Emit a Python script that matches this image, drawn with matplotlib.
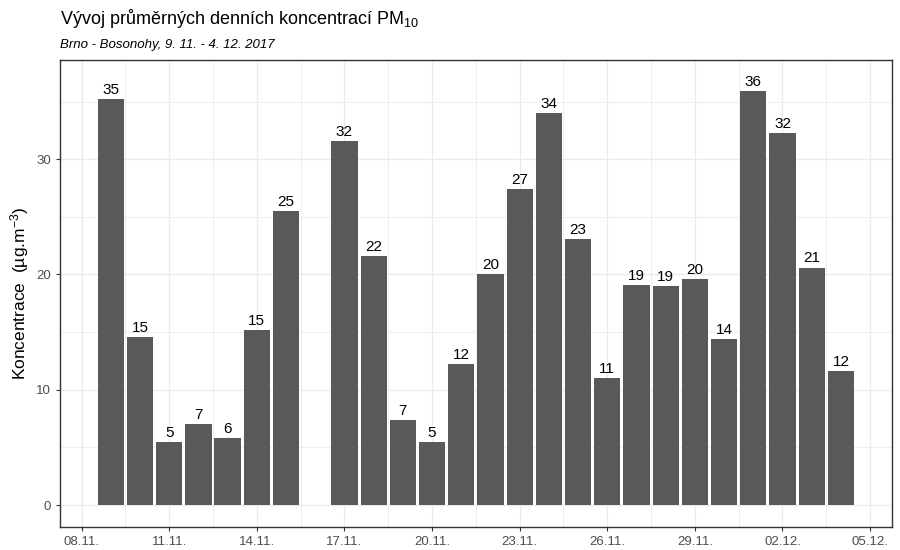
import datetime as dt
import matplotlib
matplotlib.use('Agg')
from matplotlib import pyplot as plt
import matplotlib.dates as mdates

plt.rcParams['font.family'] = ['Liberation Sans', 'DejaVu Sans']
plt.rcParams['mathtext.fontset'] = 'custom'
plt.rcParams['mathtext.rm'] = 'Liberation Sans'
plt.rcParams['mathtext.it'] = 'Liberation Sans:italic'

# daily PM10 means, 16.11. is missing
days = [9, 10, 11, 12, 13, 14, 15, 17, 18, 19, 20, 21, 22, 23, 24, 25, 26, 27, 28, 29, 30,
        1, 2, 3, 4]
months = [11] * 21 + [12] * 4
values = [35.2, 14.6, 5.5, 7.0, 5.8, 15.2, 25.5, 31.6, 21.6, 7.4, 5.5, 12.2, 20.0, 27.4,
          34.0, 23.1, 11.0, 19.1, 19.0, 19.6, 14.4, 35.9, 32.3, 20.6, 11.6]
labels = ['35', '15', '5', '7', '6', '15', '25', '32', '22', '7', '5', '12', '20', '27',
          '34', '23', '11', '19', '19', '20', '14', '36', '32', '21', '12']

dates = [dt.datetime(2017, m, d) for d, m in zip(days, months)]

fig = plt.figure(figsize=(9, 5.5), dpi=100)
ax = fig.add_axes([60 / 900, 1 - 527 / 550, 832 / 900, 467 / 550])

x = mdates.date2num(dates)
ax.bar(x, values, width=0.9, color='#595959', zorder=2)
for xi, v, lab in zip(x, values, labels):
    ax.annotate(lab, (xi, v), xytext=(0, 1.5), textcoords='offset points',
                ha='center', va='bottom', fontsize=11, color='black')

# axes limits
x0 = mdates.date2num(dt.datetime(2017, 11, 8))
x1 = mdates.date2num(dt.datetime(2017, 12, 5))
ax.set_xlim(x0 - 0.74, x1 + 0.75)
ax.set_ylim(-1.9, 38.6)

ticks = [x0 + 3 * i for i in range(10)]
ax.set_xticks(ticks)
ax.set_xticklabels([mdates.num2date(t).strftime('%d.%m.') for t in ticks])
ax.set_xticks([t + 1.5 for t in ticks[:-1]], minor=True)
ax.set_yticks([0, 10, 20, 30])
ax.set_yticks([5, 15, 25, 35], minor=True)

ax.grid(which='major', color='#EBEBEB', linewidth=1.0, zorder=0)
ax.grid(which='minor', color='#EBEBEB', linewidth=0.6, zorder=0)
ax.set_axisbelow(True)
ax.tick_params(which='major', colors='#333333', labelcolor='#4D4D4D', labelsize=9.5,
               length=3, width=0.8)
ax.tick_params(which='minor', length=0)
for s in ax.spines.values():
    s.set_color('#333333')
    s.set_linewidth(1.0)

ax.set_ylabel('Koncentrace  (µg.m$^{-3}$)', fontsize=12.5, labelpad=4)

fig.text(60 / 900, 1 - 18 / 550, 'Vývoj průměrných denních koncentrací PM$_{10}$',
         fontsize=13, va='center', ha='left')
fig.text(60 / 900, 1 - 45 / 550, 'Brno - Bosonohy, 9. 11. - 4. 12. 2017',
         fontsize=9.5, style='italic', va='center', ha='left')

fig.savefig('out.png', dpi=100)
